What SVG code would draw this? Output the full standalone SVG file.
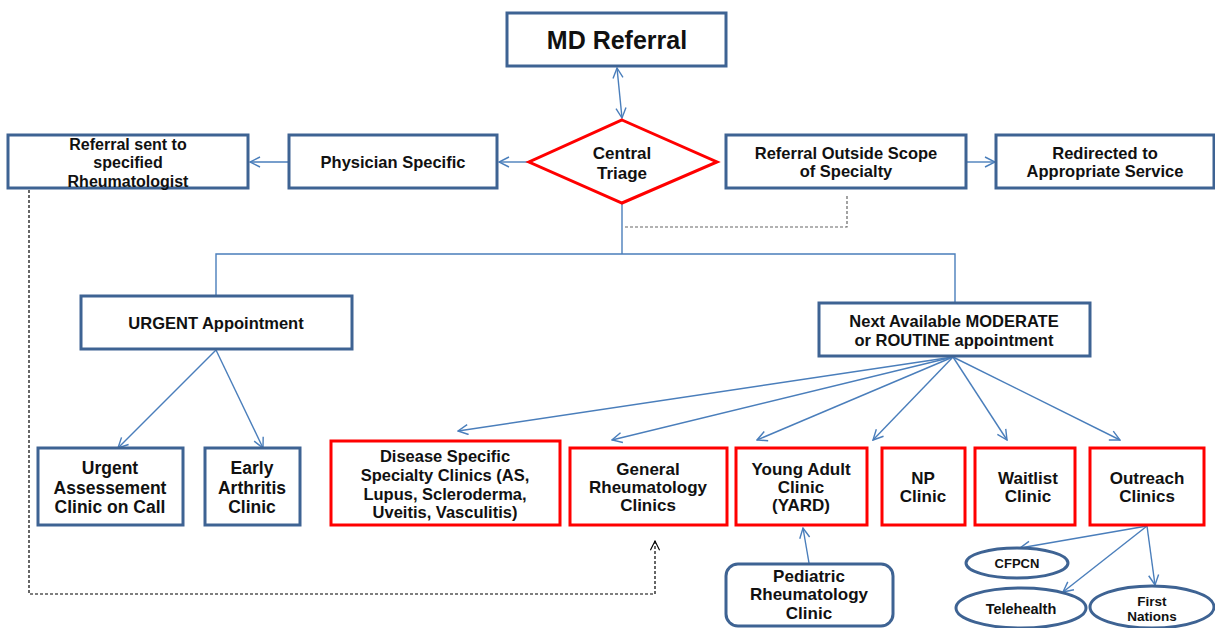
<svg xmlns="http://www.w3.org/2000/svg" width="1215" height="628" viewBox="0 0 1215 628">
<defs>
<marker id="arr" viewBox="0 0 12 12" refX="11" refY="6" markerWidth="12" markerHeight="12" markerUnits="userSpaceOnUse" orient="auto-start-reverse">
<path d="M1,1 L11,6 L1,11" fill="none" stroke="#4a7ebb" stroke-width="1.4"/>
</marker>
<marker id="arrk" viewBox="0 0 12 12" refX="11" refY="6" markerWidth="11" markerHeight="11" markerUnits="userSpaceOnUse" orient="auto">
<path d="M1,1 L11,6 L1,11" fill="none" stroke="#000" stroke-width="1.2"/>
</marker>
</defs>
<style>
.b{fill:#fff;stroke:#3e6393;stroke-width:3}
.r{fill:#fff;stroke:#ff0000;stroke-width:3}
text{font-family:"Liberation Sans",Arial,sans-serif;font-weight:bold;fill:#111;text-anchor:middle}
.c{fill:none;stroke:#4a7ebb;stroke-width:1.4}
.d{fill:none;stroke:#666;stroke-width:1.2;stroke-dasharray:3,2}
.dk{fill:none;stroke:#000;stroke-width:1.2;stroke-dasharray:3,2}
</style>
<rect width="1215" height="628" fill="#fff"/>
<g id="connectors">
<line class="c" x1="617" y1="68" x2="622" y2="118" marker-start="url(#arr)" marker-end="url(#arr)"/>
<line class="c" x1="529" y1="162" x2="499" y2="162" marker-end="url(#arr)"/>
<line class="c" x1="289" y1="162" x2="250" y2="162" marker-end="url(#arr)"/>
<line class="c" x1="966" y1="162" x2="995" y2="162" marker-end="url(#arr)"/>
<polyline class="d" points="847,196 847,227 624,227"/>
<polyline class="c" points="622,203 622,254"/>
<polyline class="c" points="216,295 216,254 955,254 955,302"/>
<line class="c" x1="216" y1="350" x2="118" y2="448" marker-end="url(#arr)"/>
<line class="c" x1="216" y1="350" x2="263" y2="448" marker-end="url(#arr)"/>
<line class="c" x1="953" y1="357" x2="458" y2="431" marker-end="url(#arr)"/>
<line class="c" x1="953" y1="357" x2="612" y2="440" marker-end="url(#arr)"/>
<line class="c" x1="953" y1="357" x2="757" y2="440" marker-end="url(#arr)"/>
<line class="c" x1="953" y1="357" x2="873" y2="440" marker-end="url(#arr)"/>
<line class="c" x1="953" y1="357" x2="1007" y2="440" marker-end="url(#arr)"/>
<line class="c" x1="953" y1="357" x2="1120" y2="440" marker-end="url(#arr)"/>
<line class="c" x1="809" y1="563" x2="803" y2="528" marker-end="url(#arr)"/>
<line class="c" x1="1147" y1="526" x2="1020" y2="548" marker-end="url(#arr)"/>
<line class="c" x1="1147" y1="526" x2="1063" y2="592" marker-end="url(#arr)"/>
<line class="c" x1="1147" y1="526" x2="1155" y2="585" marker-end="url(#arr)"/>
<polyline class="dk" points="29,190 29,594 655,594 655,541" marker-end="url(#arrk)"/>
</g>
<g id="md-referral"><rect class="b" x="507" y="13" width="219" height="53"/><text x="617" y="49" font-size="25">MD Referral</text></g>
<g id="central-triage"><polygon class="r" points="622,120 717,162 622,203 529,162"/><text x="622" y="159" font-size="17">Central</text><text x="622" y="179" font-size="17">Triage</text></g>
<g id="physician-specific"><rect class="b" x="289" y="135" width="208" height="53"/><text x="393" y="168" font-size="16.5">Physician Specific</text></g>
<g id="referral-sent"><rect class="b" x="8" y="135" width="240" height="53"/><text x="128" y="150" font-size="16">Referral sent to</text><text x="128" y="168" font-size="16">specified</text><text x="128" y="187" font-size="16">Rheumatologist</text></g>
<g id="outside-scope"><rect class="b" x="726" y="135" width="240" height="53"/><text x="846" y="159" font-size="16.5">Referral Outside Scope</text><text x="846" y="177" font-size="16.5">of Specialty</text></g>
<g id="redirected"><rect class="b" x="996" y="135" width="218" height="53"/><text x="1105" y="159" font-size="16.5">Redirected to</text><text x="1105" y="177" font-size="16.5">Appropriate Service</text></g>
<g id="urgent-appointment"><rect class="b" x="81" y="296" width="271" height="53"/><text x="216" y="329" font-size="16.5">URGENT Appointment</text></g>
<g id="next-available"><rect class="b" x="819" y="303" width="271" height="53"/><text x="954" y="327" font-size="16.5">Next Available MODERATE</text><text x="954" y="346" font-size="16.5">or ROUTINE appointment</text></g>
<g id="urgent-assessment"><rect class="b" x="38" y="448" width="145" height="77"/><text x="110" y="474" font-size="17.5">Urgent</text><text x="110" y="494" font-size="17.5">Assessement</text><text x="110" y="513" font-size="17.5">Clinic on Call</text></g>
<g id="early-arthritis"><rect class="b" x="205" y="448" width="95" height="77"/><text x="252" y="474" font-size="17.5">Early</text><text x="252" y="494" font-size="17.5">Arthritis</text><text x="252" y="513" font-size="17.5">Clinic</text></g>
<g id="disease-specific"><rect class="r" x="331" y="441" width="229" height="84"/><text x="445" y="462" font-size="16.5">Disease Specific</text><text x="445" y="481" font-size="16.5">Specialty Clinics (AS,</text><text x="445" y="500" font-size="16.5">Lupus, Scleroderma,</text><text x="445" y="518" font-size="16.5">Uveitis, Vasculitis)</text></g>
<g id="general-rheum"><rect class="r" x="570" y="448" width="157" height="77"/><text x="648" y="475" font-size="17">General</text><text x="648" y="493" font-size="17">Rheumatology</text><text x="648" y="511" font-size="17">Clinics</text></g>
<g id="young-adult"><rect class="r" x="736" y="448" width="131" height="77"/><text x="801" y="475" font-size="17">Young Adult</text><text x="801" y="493" font-size="17">Clinic</text><text x="801" y="511" font-size="17">(YARD)</text></g>
<g id="np-clinic"><rect class="r" x="882" y="448" width="83" height="77"/><text x="923" y="484" font-size="17">NP</text><text x="923" y="502" font-size="17">Clinic</text></g>
<g id="waitlist"><rect class="r" x="975" y="448" width="100" height="77"/><text x="1028" y="484" font-size="17">Waitlist</text><text x="1028" y="502" font-size="17">Clinic</text></g>
<g id="outreach"><rect class="r" x="1090" y="448" width="114" height="77"/><text x="1147" y="484" font-size="17">Outreach</text><text x="1147" y="502" font-size="17">Clinics</text></g>
<g id="pediatric"><rect class="b" x="726" y="564" width="167" height="62" rx="12"/><text x="809" y="582" font-size="17">Pediatric</text><text x="809" y="600" font-size="17">Rheumatology</text><text x="809" y="619" font-size="17">Clinic</text></g>
<g id="cfpcn"><ellipse class="b" cx="1017" cy="563" rx="51" ry="15"/><text x="1017" y="568" font-size="13">CFPCN</text></g>
<g id="telehealth"><ellipse class="b" cx="1021" cy="608" rx="65" ry="20"/><text x="1021" y="614" font-size="14.5">Telehealth</text></g>
<g id="first-nations"><ellipse class="b" cx="1152" cy="607" rx="62" ry="21"/><text x="1152" y="606" font-size="13.5">First</text><text x="1152" y="621" font-size="13.5">Nations</text></g>
</svg>
